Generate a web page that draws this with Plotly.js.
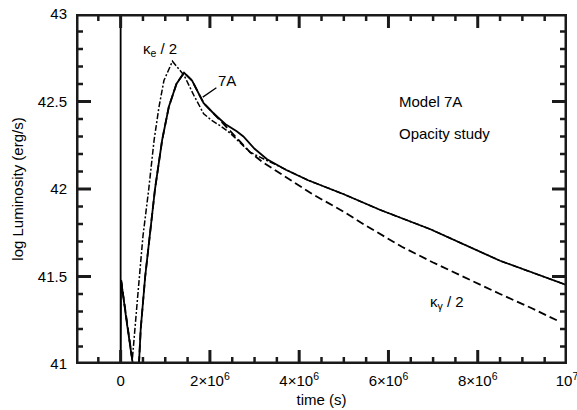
<!DOCTYPE html>
<html>
<head>
<meta charset="utf-8">
<script src="https://cdn.plot.ly/plotly-3.0.1.min.js"></script>
<style>html,body{margin:0;padding:0;background:#fff;}#chart{width:577px;height:410px;}</style>
</head>
<body>
<div id="chart"></div>
<script>
// time in units of 1e6 s, log L in erg/s
const t7A = [0, 0, 0.01, 0.13, 0.26, 0.33, 0.41, 0.45, 0.55, 0.67, 0.77, 0.93, 1.08, 1.25, 1.42, 1.6, 1.86, 2.09, 2.35, 2.6, 2.75, 3.0, 3.28, 3.7, 4.2, 5.0, 5.82, 6.94, 8.5, 10.0];
const L7A = [43.6, 40.8, 41.48, 41.25, 41.02, 40.9, 41.0, 41.2, 41.5, 41.77, 42.0, 42.28, 42.47, 42.6, 42.665, 42.62, 42.49, 42.43, 42.37, 42.33, 42.3, 42.23, 42.17, 42.11, 42.05, 41.97, 41.88, 41.77, 41.59, 41.45];

const tKe = [0.01, 0.13, 0.26, 0.38, 0.5, 0.63, 0.75, 0.86, 0.97, 1.16, 1.42, 1.65, 1.86, 2.05, 2.24, 2.45, 2.61, 2.9, 3.3, 3.7, 4.2, 5.0, 5.82, 6.94, 8.5, 10.0];
const LKe = [41.48, 41.25, 41.02, 41.38, 41.73, 42.0, 42.28, 42.47, 42.62, 42.73, 42.65, 42.53, 42.43, 42.39, 42.36, 42.32, 42.28, 42.21, 42.16, 42.11, 42.05, 41.97, 41.88, 41.77, 41.59, 41.45];

const tKg = [0.01, 0.13, 0.26, 0.33, 0.41, 0.45, 0.55, 0.67, 0.77, 0.93, 1.08, 1.25, 1.42, 1.6, 1.86, 2.09, 2.35, 2.6, 2.9, 3.2, 3.7, 4.3, 5.0, 5.5, 6.3, 7.0, 8.5, 9.2, 9.85];
const LKg = [41.48, 41.25, 41.02, 40.9, 41.0, 41.2, 41.5, 41.77, 42.0, 42.28, 42.47, 42.6, 42.665, 42.62, 42.49, 42.43, 42.36, 42.29, 42.21, 42.15, 42.07, 41.97, 41.87, 41.79, 41.67, 41.58, 41.40, 41.32, 41.24];

const xTickVals = [0, 2, 4, 6, 8, 10];
const xTickText = ['0', '2×10<sup>6</sup>', '4×10<sup>6</sup>', '6×10<sup>6</sup>', '8×10<sup>6</sup>', '10<sup>7</sup>'];
const xMinorVals = [-0.5, 0.5, 1, 1.5, 2.5, 3, 3.5, 4.5, 5, 5.5, 6.5, 7, 7.5, 8.5, 9, 9.5];
const yTickVals = [41, 41.5, 42, 42.5, 43];
const yTickText = ['41', '41.5', '42', '42.5', '43'];
const yMinorVals = [41.1, 41.2, 41.3, 41.4, 41.6, 41.7, 41.8, 41.9, 42.1, 42.2, 42.3, 42.4, 42.6, 42.7, 42.8, 42.9];

const scale = v => v * 1e6;
const FONT = 'Liberation Sans, Arial, Helvetica, sans-serif';
const XR = [-1e6, 1e7];
const YR = [41, 43];
const M = {l: 76, r: 10, t: 14, b: 46};
const W = 577, H = 410;
const pxX = (XR[1] - XR[0]) / (W - M.l - M.r);
const pxY = (YR[1] - YR[0]) / (H - M.t - M.b);
const INK = '#1a1a1a';

// tick marks built from the tick arrays, placed through the axes
function tickPath(xVals, yVals, xLen, yLen) {
  const x = [], y = [];
  xVals.forEach(v => {
    x.push(v, v, null, v, v, null);
    y.push(YR[0], YR[0] + xLen * pxY, null, YR[1], YR[1] - xLen * pxY, null);
  });
  yVals.forEach(v => {
    x.push(XR[0], XR[0] + yLen * pxX, null, XR[1], XR[1] - yLen * pxX, null);
    y.push(v, v, null, v, v, null);
  });
  return {x, y};
}
const majorTk = tickPath(xTickVals.slice(0, -1).map(scale), yTickVals.slice(1, -1), 14, 15);
const minorTk = tickPath(xMinorVals.map(scale), yMinorVals, 7, 7);

const traces = [
  {x: tKe.map(scale), y: LKe, mode: 'lines', name: 'κe/2',
   line: {color: '#000', width: 1.5, dash: '6px,2px,2px,2px'}},
  {x: tKg.map(scale), y: LKg, mode: 'lines', name: 'κγ/2',
   line: {color: '#000', width: 1.8, dash: '8px,4px'}},
  {x: t7A.map(scale), y: L7A, mode: 'lines', name: '7A',
   line: {color: '#000', width: 1.8}},
  {x: majorTk.x, y: majorTk.y, mode: 'lines', name: 'major ticks', hoverinfo: 'skip', line: {color: INK, width: 3}},
  {x: minorTk.x, y: minorTk.y, mode: 'lines', name: 'minor ticks', hoverinfo: 'skip', line: {color: INK, width: 2.5}},
  {x: [XR[0], XR[1], XR[1], XR[0], XR[0]], y: [YR[0], YR[0], YR[1], YR[1], YR[0]], mode: 'lines', name: 'frame', hoverinfo: 'skip',
   line: {color: INK, width: 5}}
];

const layout = {
  width: W, height: H,
  margin: M,
  showlegend: false,
  font: {family: FONT, size: 15, color: '#000'},
  xaxis: {
    range: XR, showgrid: false, zeroline: false, showline: false, ticks: '',
    tickmode: 'array', tickvals: xTickVals.map(scale), ticktext: xTickText,
    ticklabeloverflow: 'allow', ticklabelstandoff: 6,
    tickfont: {family: FONT, size: 15},
    title: {text: 'time (s)', font: {family: FONT, size: 15}, standoff: 6}
  },
  yaxis: {
    range: YR, showgrid: false, zeroline: false, showline: false, ticks: '',
    tickmode: 'array', tickvals: yTickVals, ticktext: yTickText,
    ticklabelstandoff: 8,
    tickfont: {family: FONT, size: 15},
    title: {text: 'log Luminosity (erg/s)', font: {family: FONT, size: 15}, standoff: 10}
  },
  annotations: [
    {x: 0.88e6, y: 42.80, xref: 'x', yref: 'y', text: 'κ<sub>e</sub> / 2', showarrow: false, font: {family: FONT, size: 15}},
    {x: 1.84e6, y: 42.525, xref: 'x', yref: 'y', text: '7A', showarrow: true,
     ax: 2.38e6, ay: 42.62, axref: 'x', ayref: 'y',
     arrowhead: 0, arrowwidth: 1.3, arrowcolor: '#000', standoff: 0, startstandoff: 0, font: {family: FONT, size: 15}},
    {x: 6.2e6, y: 42.50, xref: 'x', yref: 'y', text: 'Model 7A', showarrow: false, xanchor: 'left', font: {family: FONT, size: 15}},
    {x: 6.2e6, y: 42.32, xref: 'x', yref: 'y', text: 'Opacity study', showarrow: false, xanchor: 'left', font: {family: FONT, size: 15}},
    {x: 7.32e6, y: 41.35, xref: 'x', yref: 'y', text: 'κ<sub>γ</sub> / 2', showarrow: false, font: {family: FONT, size: 15}}
  ]
};

Plotly.newPlot('chart', traces, layout, {displayModeBar: false});
</script>
</body>
</html>
